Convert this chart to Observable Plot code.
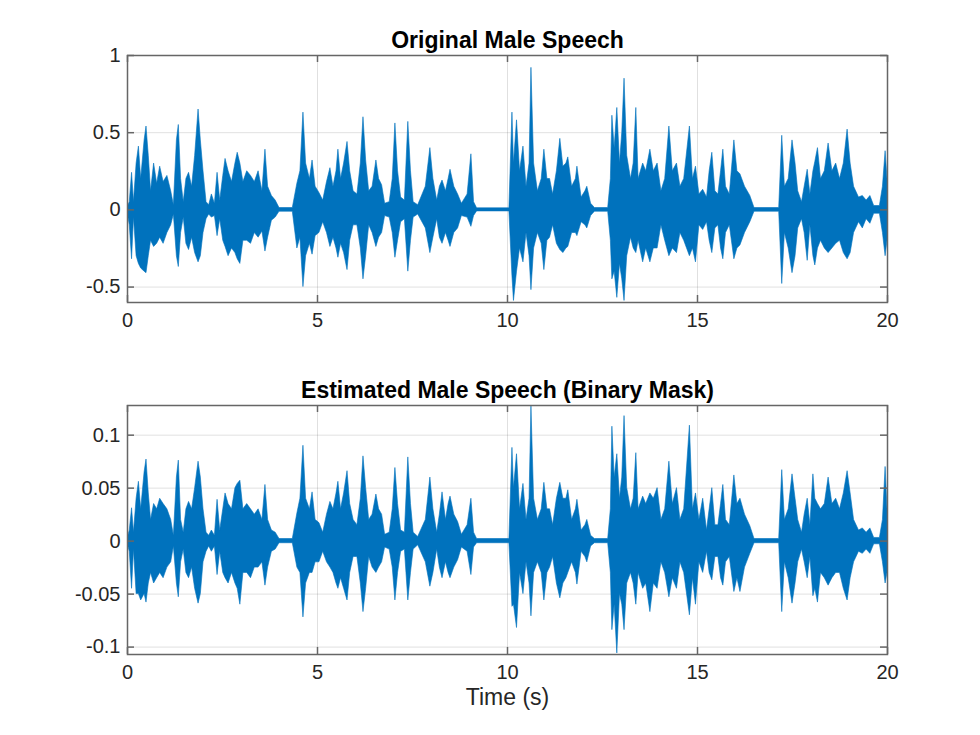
<!DOCTYPE html>
<html><head><meta charset="utf-8">
<script src="https://cdn.jsdelivr.net/npm/d3@7"></script>
<script src="https://cdn.jsdelivr.net/npm/@observablehq/plot@0.6"></script>
<style>
body{margin:0;background:#fff;}
#chart svg{display:block;}
</style>
</head><body><div id="chart"></div><script>
// Envelope of the waveforms (seconds)
const time = [0.00,0.06,0.12,0.17,0.24,0.30,0.36,0.45,0.50,0.56,0.62,0.70,0.78,0.86,0.95,1.05,1.15,1.22,1.30,1.35,1.41,1.48,1.55,1.62,1.70,1.78,1.87,1.93,2.00,2.08,2.15,2.22,2.30,2.37,2.44,2.52,2.58,2.66,2.75,2.84,2.90,2.97,3.05,3.15,3.25,3.35,3.45,3.55,3.63,3.70,3.80,3.90,4.00,4.35,4.47,4.55,4.63,4.70,4.80,4.87,4.95,5.05,5.15,5.25,5.34,5.42,5.50,5.55,5.62,5.70,5.79,5.86,5.95,6.05,6.14,6.21,6.28,6.36,6.45,6.55,6.62,6.70,6.78,6.90,6.98,7.05,7.12,7.20,7.30,7.39,7.46,7.53,7.65,7.85,7.97,8.05,8.15,8.22,8.29,8.38,8.45,8.50,8.60,8.70,8.80,8.95,9.05,9.12,9.20,10.05,10.13,10.17,10.25,10.33,10.42,10.50,10.58,10.63,10.70,10.80,10.90,10.97,11.05,11.12,11.20,11.30,11.39,11.47,11.55,11.60,11.70,11.80,11.84,11.95,12.05,12.10,12.20,12.30,12.65,12.72,12.76,12.82,12.89,12.96,13.02,13.08,13.15,13.25,13.32,13.39,13.45,13.57,13.65,13.76,13.85,13.95,14.05,14.15,14.26,14.35,14.46,14.55,14.65,14.80,14.88,14.96,15.05,15.15,15.25,15.32,15.39,15.47,15.55,15.62,15.68,15.75,15.85,15.97,16.05,16.13,16.25,16.39,16.50,17.15,17.23,17.30,17.40,17.50,17.58,17.65,17.75,17.82,17.90,17.97,18.05,18.10,18.17,18.25,18.35,18.45,18.55,18.65,18.75,18.85,18.95,19.03,19.12,19.25,19.35,19.45,19.55,19.65,19.80,19.88,19.95,20.00];

const originalUpper = [0.015,0.05,0.24,0.05,0.30,0.41,0.20,0.45,0.54,0.35,0.12,0.30,0.17,0.28,0.18,0.22,0.12,0.03,0.45,0.55,0.20,0.05,0.20,0.24,0.15,0.35,0.65,0.45,0.25,0.05,0.03,0.10,0.04,0.24,0.06,0.22,0.33,0.25,0.18,0.30,0.37,0.30,0.18,0.25,0.22,0.18,0.25,0.12,0.39,0.15,0.09,0.06,0.012,0.012,0.17,0.25,0.63,0.30,0.20,0.32,0.15,0.11,0.06,0.18,0.27,0.15,0.25,0.39,0.20,0.30,0.44,0.25,0.12,0.10,0.30,0.60,0.32,0.12,0.15,0.32,0.20,0.16,0.04,0.05,0.20,0.56,0.25,0.08,0.06,0.57,0.25,0.05,0.03,0.15,0.40,0.20,0.06,0.15,0.19,0.12,0.20,0.26,0.15,0.10,0.04,0.10,0.36,0.05,0.01,0.01,0.63,0.30,0.58,0.25,0.41,0.15,0.30,0.92,0.30,0.12,0.20,0.39,0.20,0.20,0.10,0.25,0.46,0.28,0.30,0.34,0.15,0.20,0.28,0.08,0.12,0.15,0.04,0.012,0.012,0.20,0.61,0.40,0.66,0.30,0.50,0.85,0.35,0.20,0.30,0.66,0.20,0.30,0.25,0.39,0.25,0.30,0.12,0.20,0.54,0.25,0.30,0.15,0.20,0.54,0.20,0.28,0.10,0.13,0.08,0.25,0.37,0.12,0.10,0.25,0.39,0.15,0.10,0.45,0.25,0.23,0.15,0.09,0.012,0.012,0.48,0.15,0.20,0.45,0.30,0.12,0.05,0.15,0.26,0.10,0.25,0.31,0.40,0.20,0.25,0.43,0.25,0.30,0.20,0.30,0.52,0.30,0.15,0.08,0.09,0.06,0.09,0.025,0.025,0.15,0.38,0.20];

const originalLower = [-0.015,-0.10,-0.32,-0.05,-0.30,-0.35,-0.38,-0.40,-0.41,-0.30,-0.20,-0.24,-0.22,-0.18,-0.22,-0.15,-0.10,-0.03,-0.30,-0.37,-0.15,-0.05,-0.22,-0.26,-0.18,-0.28,-0.34,-0.30,-0.15,-0.06,-0.03,-0.05,-0.04,-0.17,-0.06,-0.20,-0.24,-0.30,-0.25,-0.28,-0.32,-0.35,-0.20,-0.20,-0.22,-0.15,-0.18,-0.14,-0.27,-0.18,-0.07,-0.05,-0.012,-0.012,-0.25,-0.18,-0.50,-0.30,-0.22,-0.29,-0.17,-0.15,-0.08,-0.15,-0.24,-0.18,-0.25,-0.31,-0.22,-0.28,-0.39,-0.20,-0.10,-0.10,-0.25,-0.45,-0.30,-0.10,-0.15,-0.24,-0.18,-0.15,-0.04,-0.05,-0.15,-0.31,-0.20,-0.08,-0.06,-0.40,-0.20,-0.05,-0.03,-0.12,-0.28,-0.18,-0.06,-0.18,-0.22,-0.15,-0.20,-0.24,-0.15,-0.12,-0.04,-0.05,-0.11,-0.04,-0.01,-0.01,-0.43,-0.59,-0.40,-0.25,-0.34,-0.15,-0.30,-0.52,-0.25,-0.15,-0.22,-0.39,-0.20,-0.18,-0.10,-0.22,-0.26,-0.28,-0.25,-0.24,-0.15,-0.15,-0.17,-0.08,-0.10,-0.12,-0.04,-0.012,-0.012,-0.20,-0.45,-0.40,-0.57,-0.35,-0.45,-0.59,-0.30,-0.18,-0.25,-0.28,-0.20,-0.34,-0.25,-0.34,-0.25,-0.25,-0.10,-0.20,-0.30,-0.25,-0.28,-0.15,-0.20,-0.30,-0.25,-0.34,-0.10,-0.13,-0.08,-0.20,-0.28,-0.12,-0.10,-0.25,-0.32,-0.15,-0.10,-0.32,-0.25,-0.23,-0.15,-0.08,-0.012,-0.012,-0.48,-0.15,-0.25,-0.41,-0.30,-0.12,-0.06,-0.15,-0.33,-0.10,-0.30,-0.36,-0.25,-0.20,-0.25,-0.28,-0.25,-0.22,-0.20,-0.28,-0.32,-0.28,-0.15,-0.08,-0.12,-0.06,-0.09,-0.025,-0.025,-0.15,-0.30,-0.20];

const estimatedUpper = [0.002,0.01,0.031,0.008,0.04,0.056,0.03,0.065,0.077,0.045,0.02,0.035,0.03,0.04,0.035,0.03,0.02,0.005,0.06,0.076,0.02,0.008,0.03,0.037,0.03,0.05,0.075,0.06,0.03,0.008,0.005,0.01,0.005,0.039,0.01,0.03,0.045,0.035,0.03,0.05,0.054,0.057,0.03,0.035,0.03,0.025,0.03,0.02,0.053,0.02,0.01,0.008,0.002,0.002,0.026,0.04,0.09,0.04,0.03,0.046,0.02,0.017,0.008,0.025,0.037,0.03,0.045,0.056,0.03,0.045,0.066,0.035,0.02,0.015,0.04,0.08,0.05,0.02,0.025,0.044,0.03,0.025,0.006,0.008,0.03,0.069,0.035,0.01,0.008,0.079,0.035,0.008,0.004,0.02,0.06,0.03,0.008,0.025,0.046,0.02,0.035,0.042,0.025,0.018,0.006,0.015,0.04,0.008,0.002,0.002,0.088,0.05,0.082,0.03,0.054,0.02,0.04,0.127,0.04,0.02,0.03,0.055,0.03,0.03,0.015,0.04,0.055,0.04,0.04,0.048,0.02,0.03,0.039,0.01,0.015,0.02,0.005,0.002,0.002,0.03,0.108,0.06,0.082,0.04,0.06,0.118,0.05,0.03,0.04,0.083,0.03,0.042,0.035,0.045,0.04,0.05,0.02,0.03,0.075,0.035,0.05,0.02,0.03,0.109,0.03,0.045,0.02,0.04,0.01,0.03,0.05,0.015,0.015,0.035,0.053,0.02,0.015,0.062,0.035,0.04,0.025,0.014,0.002,0.002,0.067,0.02,0.03,0.063,0.04,0.02,0.008,0.025,0.04,0.015,0.063,0.04,0.035,0.03,0.035,0.06,0.035,0.04,0.03,0.045,0.066,0.045,0.02,0.01,0.012,0.008,0.012,0.003,0.003,0.02,0.07,0.03];

const estimatedLower = [-0.002,-0.01,-0.045,-0.008,-0.05,-0.05,-0.056,-0.05,-0.058,-0.04,-0.03,-0.04,-0.035,-0.03,-0.035,-0.025,-0.02,-0.005,-0.04,-0.053,-0.02,-0.008,-0.03,-0.035,-0.025,-0.045,-0.059,-0.05,-0.02,-0.01,-0.005,-0.01,-0.005,-0.032,-0.01,-0.03,-0.035,-0.04,-0.03,-0.04,-0.045,-0.06,-0.03,-0.03,-0.035,-0.025,-0.025,-0.02,-0.042,-0.025,-0.01,-0.008,-0.002,-0.002,-0.025,-0.03,-0.072,-0.04,-0.03,-0.03,-0.02,-0.02,-0.01,-0.02,-0.025,-0.03,-0.04,-0.045,-0.035,-0.045,-0.056,-0.03,-0.015,-0.015,-0.04,-0.067,-0.045,-0.015,-0.025,-0.03,-0.025,-0.02,-0.006,-0.008,-0.025,-0.056,-0.03,-0.01,-0.008,-0.056,-0.03,-0.008,-0.004,-0.02,-0.043,-0.03,-0.008,-0.025,-0.035,-0.02,-0.03,-0.035,-0.025,-0.018,-0.006,-0.01,-0.032,-0.006,-0.002,-0.002,-0.062,-0.06,-0.082,-0.03,-0.05,-0.02,-0.04,-0.071,-0.03,-0.02,-0.03,-0.056,-0.03,-0.025,-0.015,-0.04,-0.054,-0.04,-0.035,-0.03,-0.02,-0.03,-0.041,-0.01,-0.015,-0.02,-0.005,-0.002,-0.002,-0.03,-0.084,-0.06,-0.106,-0.05,-0.06,-0.084,-0.04,-0.03,-0.04,-0.06,-0.03,-0.045,-0.04,-0.067,-0.04,-0.045,-0.02,-0.03,-0.053,-0.035,-0.045,-0.02,-0.03,-0.07,-0.035,-0.06,-0.02,-0.03,-0.01,-0.03,-0.037,-0.015,-0.015,-0.035,-0.042,-0.02,-0.015,-0.048,-0.035,-0.048,-0.025,-0.012,-0.002,-0.002,-0.067,-0.02,-0.035,-0.059,-0.04,-0.02,-0.008,-0.02,-0.035,-0.015,-0.052,-0.045,-0.058,-0.03,-0.035,-0.042,-0.035,-0.03,-0.03,-0.045,-0.056,-0.035,-0.02,-0.01,-0.012,-0.008,-0.012,-0.003,-0.003,-0.02,-0.04,-0.03];

const xTicks = [0, 5, 10, 15, 20];
const originalTicks = [-0.5, 0, 0.5, 1];
const estimatedTicks = [-0.1, -0.05, 0, 0.05, 0.1];
const originalDomain = [-0.6, 1];
const estimatedDomain = [-0.107, 0.128];
const titles = ["Original Male Speech", "Estimated Male Speech (Binary Mask)"];
const xLabel = "Time (s)";

const W = 980, ML = 127, MR = 93;
const FONT = "Helvetica, Arial, 'Liberation Sans', sans-serif";
const BLUE = "#0072BD", AXIS = "#666666", TEXT = "#262626";

function panel({title, upper, lower, domain, yTicks, height, marginTop, marginBottom, xlabel}) {
  const data = time.map((t, i) => ({t, hi: upper[i], lo: lower[i]}));
  const fw = W - ML - MR, fh = height - marginTop - marginBottom;
  const marks = [
    Plot.gridX(xTicks, {stroke: "#000", strokeOpacity: 0.12, strokeWidth: 1}),
    Plot.gridY(yTicks, {stroke: "#000", strokeOpacity: 0.12, strokeWidth: 1}),
    Plot.areaY(data, {x: "t", y1: "lo", y2: "hi", fill: BLUE, stroke: BLUE, strokeWidth: 0.6, clip: true}),
    Plot.tickX(xTicks, {x: d => d, insetTop: fh - 7, stroke: AXIS, strokeWidth: 1.5}),
    Plot.tickX(xTicks, {x: d => d, insetBottom: fh - 7, stroke: AXIS, strokeWidth: 1.5}),
    Plot.tickY(yTicks, {y: d => d, insetRight: fw - 7, stroke: AXIS, strokeWidth: 1.5}),
    Plot.tickY(yTicks, {y: d => d, insetLeft: fw - 7, stroke: AXIS, strokeWidth: 1.5}),
    Plot.frame({stroke: AXIS, strokeWidth: 1.5}),
    Plot.axisX({ticks: xTicks, tickSize: 0, tickPadding: 10, tickFormat: d => String(d), label: null, fontSize: 20, fill: TEXT}),
    Plot.axisY({ticks: yTicks, tickSize: 0, tickPadding: 7, tickFormat: d => String(d), label: null, fontSize: 20, fill: TEXT}),
    Plot.text([title], {frameAnchor: "top", dy: -15, lineAnchor: "middle", fontWeight: "bold", fontSize: 23, fill: "#000"})
  ];
  if (xlabel) marks.push(Plot.text([xlabel], {frameAnchor: "bottom", dy: 43, lineAnchor: "middle", fontSize: 23, fill: TEXT}));
  return Plot.plot({
    width: W, height, marginLeft: ML, marginRight: MR, marginTop, marginBottom,
    style: {fontFamily: FONT, background: "#fff", color: TEXT, overflow: "visible"},
    x: {domain: [0, 20]},
    y: {domain},
    marks
  });
}

const chart = document.getElementById("chart");
chart.append(panel({title: titles[0], upper: originalUpper, lower: originalLower, domain: originalDomain, yTicks: originalTicks, height: 367, marginTop: 55, marginBottom: 65}));
chart.append(panel({title: titles[1], upper: estimatedUpper, lower: estimatedLower, domain: estimatedDomain, yTicks: estimatedTicks, height: 368, marginTop: 38, marginBottom: 81, xlabel: xLabel}));
</script></body></html>
